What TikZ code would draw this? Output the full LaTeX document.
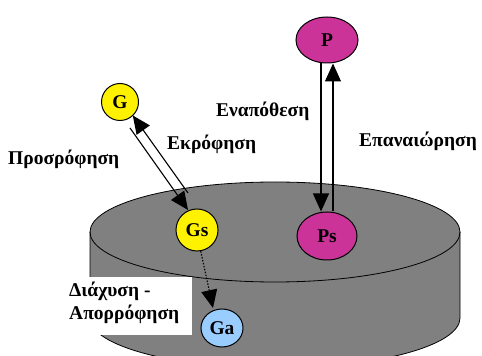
\documentclass[tikz,border=0pt]{standalone}
\usepackage{fontspec}
\setmainfont{Liberation Serif}
\usetikzlibrary{arrows.meta,calc,shapes.geometric}
\definecolor{pmag}{HTML}{CC3399}
\definecolor{gablue}{HTML}{99CCFF}
\definecolor{cylgray}{HTML}{808080}
\begin{document}
\begin{tikzpicture}[x=1pt,y=1pt,
  font=\fontsize{19.5}{21}\selectfont\bfseries,
  ball/.style={circle, draw, line width=1pt, inner sep=0pt, text=black},
  oval/.style={ellipse, draw, line width=1pt, inner sep=0pt, text=black},
  flow/.style={line width=1.1pt, -{Triangle[length=18pt,width=16pt]}},
  lbl/.style={inner sep=0pt, anchor=base west},
  cyl/.style={line width=0.8pt}]
\useasboundingbox (0,0) rectangle (482,356);
% cylinder
\fill[cylgray] (90,124) -- (90,38) arc[start angle=180,end angle=360,x radius=185,y radius=50] -- (460,124) -- cycle;
\fill[cylgray] (275,124) ellipse[x radius=185,y radius=50];
\draw[cyl] (90,124) -- (90,38) arc[start angle=180,end angle=360,x radius=185,y radius=50] -- (460,124);
\draw[cyl] (275,124) ellipse[x radius=185,y radius=50];
% white label box
\fill[white] (55,21) rectangle (192,79);
% nodes
\node[ball, fill=yellow, minimum size=37pt] (G) at (120,254) {G};
\node[ball, fill=yellow, minimum size=42pt] (Gs) at (197,126) {Gs};
\node[oval, fill=pmag, minimum width=60pt, minimum height=48pt] (Ps) at (327,120) {Ps};
\node[oval, fill=gablue, minimum width=42pt, minimum height=38pt] (Ga) at (222,28) {Ga};
\node[oval, fill=pmag, minimum width=62pt, minimum height=46pt] (P) at (327,316) {P};
% labels
\node[lbl] (dep) at (216,239) {Εναπόθεση};
\node[lbl] (des) at (167,206) {Εκρόφηση};
\node[lbl] (ads) at (8,191) {Προσρόφηση};
\node[lbl] (res) at (359,209) {Επαναιώρηση};
\node[lbl] (dif1) at (69,59) {Διάχυση -};
\node[lbl] (dif2) at (69,36) {Απορρόφηση};
% connectors
\draw[flow] ([xshift=-6pt]P.south) -- ([xshift=-6pt]Ps.north);
\draw[flow] ([xshift=6pt]Ps.north) -- ([xshift=6pt]P.south);
\draw[flow] ($(G)+(10,-26)$) -- ($(Gs)+(-9,20)$);
\draw[flow] ($(Gs)+(-9,37)$) -- ($(G)+(12.8,-13.5)$);
\draw[flow, dash pattern=on 1.5pt off 1.5pt] (Gs.-80) -- ($(Ga)+(-9,20)$);
\end{tikzpicture}
\end{document}
